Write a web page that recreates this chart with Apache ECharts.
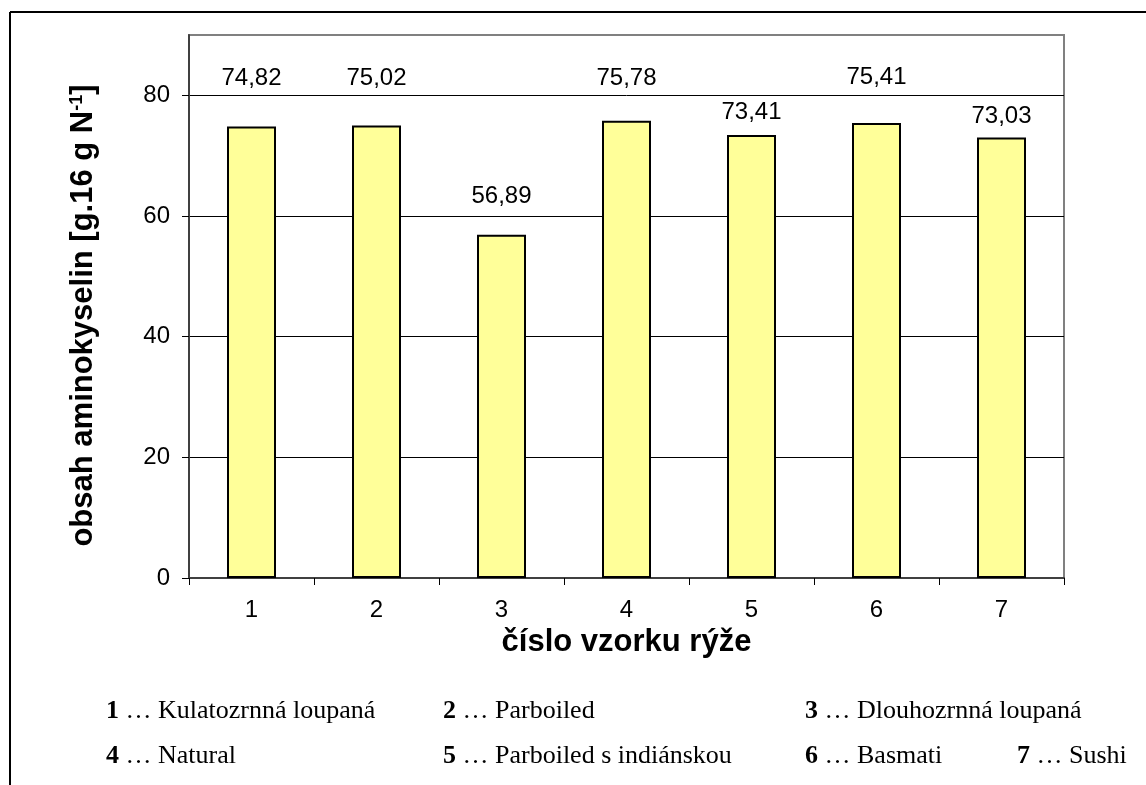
<!DOCTYPE html>
<html>
<head>
<meta charset="utf-8">
<title>Obsah aminokyselin ve vzorcích rýže</title>
<script src="https://cdn.jsdelivr.net/npm/echarts@6/dist/echarts.min.js"></script>
<style>
  html, body { margin: 0; padding: 0; background: #fff; }
  #chart { width: 1146px; height: 785px; }
</style>
</head>
<body>
<div id="chart"></div>
<script>
// Sample numbers on the category axis
const categories = ['1', '2', '3', '4', '5', '6', '7'];
// Amino acid content per sample [g.16 g N-1]
const aminoContent = [74.82, 75.02, 56.89, 75.78, 73.41, 75.41, 73.03];
// Value axis tick labels
const yTicks = [0, 20, 40, 60, 80];
// Rice sample names for the key below the chart
const sampleNames = ['Kulatozrnná loupaná', 'Parboiled', 'Dlouhozrnná loupaná',
                     'Natural', 'Parboiled s indiánskou', 'Basmati', 'Sushi'];

// Layout: gap (px) between each bar top and its value label
const labelGap = [36, 35, 26, 30, 11, 34, 9];
// Layout: key rows and column starts
const keySlots = [
  [106, 711], [443, 711], [805, 711],
  [106, 756], [443, 756], [805, 756], [1017, 756]
];

const SANS = '"Liberation Sans", Arial, sans-serif';
const SERIF = '"Liberation Serif", "Times New Roman", serif';
const KEY_SIZE = 26;

const fmt = v => v.toFixed(2).replace('.', ',');

// measure text width so the name can follow the bold sample number
const measureCtx = document.createElement('canvas').getContext('2d');
function textWidth(str, font) {
  measureCtx.font = font;
  return measureCtx.measureText(str).width;
}

const chart = echarts.init(document.getElementById('chart'), null, { renderer: 'canvas' });

const keyTexts = [];
sampleNames.forEach((name, i) => {
  const [x, y] = keySlots[i];
  const numW = textWidth(categories[i], 'bold ' + KEY_SIZE + 'px ' + SERIF);
  keyTexts.push({
    type: 'text', x: x, y: y,
    style: {
      text: categories[i], fill: '#000', verticalAlign: 'middle',
      fontFamily: SERIF, fontSize: KEY_SIZE, fontWeight: 'bold'
    }
  });
  keyTexts.push({
    type: 'text', x: x + numW, y: y,
    style: {
      text: ' … ' + name, fill: '#000', verticalAlign: 'middle',
      fontFamily: SERIF, fontSize: KEY_SIZE, fontWeight: 'normal'
    }
  });
});

chart.setOption({
  animation: false,
  backgroundColor: '#fff',
  grid: {
    left: 189, right: 82, top: 35, bottom: 207,
    show: true,
    borderColor: '#808080',
    borderWidth: 2,
    backgroundColor: 'transparent'
  },
  xAxis: {
    type: 'category',
    data: categories,
    boundaryGap: true,
    name: 'číslo vzorku rýže',
    nameLocation: 'middle',
    nameGap: 46,
    nameTextStyle: { fontFamily: SANS, fontSize: 31, fontWeight: 'bold', color: '#000' },
    axisLine: { lineStyle: { color: '#404040', width: 2 } },
    axisTick: { show: true, length: 7, lineStyle: { color: '#000', width: 1 } },
    axisLabel: { margin: 20, fontFamily: SANS, fontSize: 24, color: '#000' },
    splitLine: { show: false }
  },
  yAxis: {
    type: 'value',
    min: 0,
    max: 90,
    interval: 10,
    name: '{t|obsah aminokyselin [g.16 g N}{s|-1}{t|]}',
    nameLocation: 'middle',
    nameGap: 90,
    nameRotate: 90,
    nameTextStyle: {
      padding: [0, 18, 0, 0],
      rich: {
        t: { fontFamily: SANS, fontSize: 31, fontWeight: 'bold', color: '#000' },
        s: { fontFamily: SANS, fontSize: 18, fontWeight: 'bold', color: '#000', verticalAlign: 'top' }
      }
    },
    axisLine: { show: true, lineStyle: { color: '#404040', width: 2 } },
    axisTick: { show: true, length: 7, customValues: yTicks, lineStyle: { color: '#000', width: 1 } },
    axisLabel: { margin: 19, customValues: yTicks, fontFamily: SANS, fontSize: 24, color: '#000' },
    splitLine: { show: true, lineStyle: { color: '#000', width: 1 } }
  },
  series: [{
    type: 'bar',
    data: aminoContent.map((v, i) => ({
      value: v,
      label: { distance: labelGap[i] }
    })),
    barWidth: 49,
    itemStyle: { color: '#FFFF99', borderColor: '#000', borderWidth: 2 },
    label: {
      show: true,
      position: 'top',
      fontFamily: SANS,
      fontSize: 24,
      color: '#000',
      formatter: p => fmt(p.value)
    },
    z: 3
  }],
  graphic: [
    // frame around the figure (left and top edges)
    { type: 'line', shape: { x1: 10, y1: 12, x2: 1146, y2: 12 }, style: { stroke: '#000', lineWidth: 2 } },
    { type: 'line', shape: { x1: 10, y1: 12, x2: 10, y2: 785 }, style: { stroke: '#000', lineWidth: 2 } },
    ...keyTexts
  ]
});
</script>
</body>
</html>
